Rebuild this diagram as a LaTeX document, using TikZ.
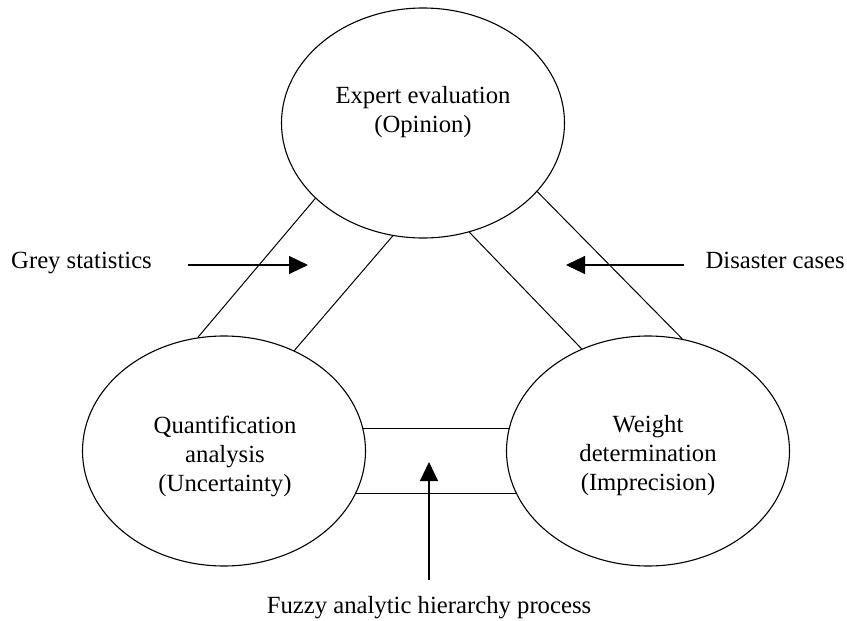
\documentclass[tikz,border=0pt]{standalone}
\usepackage{fontspec}
\setmainfont{Liberation Serif}
\usetikzlibrary{shapes.geometric,arrows.meta}
\begin{document}
\begin{tikzpicture}[x=1pt,y=-1pt,
  ell/.style={draw,ellipse,minimum width=283pt,minimum height=230pt,inner sep=0pt,line width=1.1pt},
  txt/.style={align=center,inner sep=0pt,font=\fontsize{24.7}{29}\selectfont},
  band/.style={line width=1pt},
  arr/.style={line width=1.1pt,-{Triangle[length=19pt,width=18pt]}}]
\useasboundingbox (0,0) rectangle (847,621);
% ellipses
\node[ell] (E) at (423,123) {};
\node[ell] (Q) at (224,451) {};
\node[ell] (W) at (648,451) {};
% texts inside
\node[txt] (Et) at (423,112) {Expert evaluation\\(Opinion)};
\node[txt] (Qt) at (225,456) {Quantification\\analysis\\(Uncertainty)};
\node[txt] (Wt) at (648,456) {Weight\\determination\\(Imprecision)};
% bands
\draw[band] (E.215.4) -- (Q.103.7);
\draw[band] (E.255.4) -- (Q.55.1);
\draw[band] (E.293.8) -- (W.123.9);
\draw[band] (E.329.8) -- (W.73.4);
\draw[band] (Q.9.5) -- (W.170.5 |- Q.9.5);
\draw[band] (Q.-18) -- (W.198 |- Q.-18);
% side labels
\node[txt,anchor=base west] (GS) at (11,268) {Grey statistics};
\node[txt,anchor=base east] (DC) at (845,268) {Disaster cases};
\node[txt,anchor=base] (FA) at (429,613) {Fuzzy analytic hierarchy process};
% arrows
\coordinate (gsA) at (188,265);
\coordinate (gsB) at (308,265);
\coordinate (dcA) at (684,265);
\coordinate (dcB) at (566,265);
\coordinate (faA) at (429,580);
\coordinate (faB) at (429,462);
\draw[arr] (gsA) -- (gsB);
\draw[arr] (dcA) -- (dcB);
\draw[arr] (faA) -- (faB);
\end{tikzpicture}
\end{document}
